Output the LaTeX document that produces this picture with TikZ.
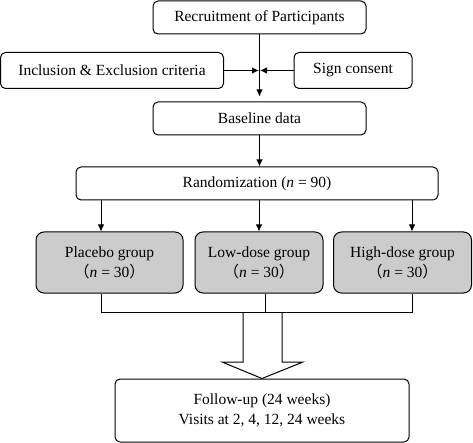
\documentclass[tikz,border=0pt]{standalone}
\usepackage{fontspec}
\setmainfont{Liberation Serif}
\newfontfamily\cjk{Noto Sans CJK SC}
\usetikzlibrary{arrows.meta,calc}
\begin{document}
\begin{tikzpicture}[x=1pt,y=-1pt,
  box/.style={draw,line width=1pt,rounded corners=5pt,inner sep=0pt,align=center,font=\fontsize{15.5}{20}\selectfont},
  grp/.style={box,rounded corners=8pt,fill=gray!40},
  arr/.style={line width=1pt,-{Latex[length=7pt,width=6.5pt]}},
  ln/.style={line width=1pt}]
\useasboundingbox (0,0) rectangle (473,443);
\node[box,minimum width=213pt,minimum height=33pt] (rec) at (259.5,17.5) {Recruitment of Participants};
\node[box,minimum width=223pt,minimum height=36pt] (inc) at (112,70.5) {Inclusion \& Exclusion criteria};
\node[box,minimum width=118pt,minimum height=36pt] (sign) at (353,70.5) {Sign consent};
\node[box,minimum width=213pt,minimum height=33pt] (base) at (259.5,118.5) {Baseline data};
\node[box,minimum width=362pt,minimum height=33pt] (rand) at (257,183.5) {Randomization (\textit{n} = 90)};
\node[grp,minimum width=147pt,minimum height=61pt] (plac) at (109.5,262.5) {Placebo group\\{\cjk （}\textit{n} = 30{\cjk ）}};
\node[grp,minimum width=128pt,minimum height=61pt] (low) at (259,262.5) {Low-dose group\\{\cjk （}\textit{n} = 30{\cjk ）}};
\node[grp,minimum width=138pt,minimum height=61pt] (high) at (402.5,262.5) {High-dose group\\{\cjk （}\textit{n} = 30{\cjk ）}};
\node[box,minimum width=294pt,minimum height=63pt] (fol) at (262,410.5) {Follow-up (24 weeks)\\Visits at 2, 4, 12, 24 weeks};
% top arrows
\draw[arr,shorten >=5pt] (rec.south) -- (base.north);
\coordinate (jn) at (259.5,70.5);
\draw[arr,shorten >=0.5pt] (inc.east) -- (jn);
\draw[arr,shorten >=0.5pt] (sign.west) -- (jn);
\draw[arr] (base.south) -- (base.south |- rand.north);
% randomization to groups
\coordinate (xa) at (101,0);
\coordinate (xb) at (259,0);
\coordinate (xc) at (412,0);
\draw[arr] (xa |- rand.south) -- (xa |- plac.north);
\draw[arr] (xb |- rand.south) -- (xb |- low.north);
\draw[arr] (xc |- rand.south) -- (xc |- high.north);
% merge lines
\coordinate (ya) at (0,312);
\draw[ln] (xa |- plac.south) -- (xa |- ya) -- (xc |- ya) -- (xc |- high.south);
\coordinate (xd) at (265,0);
\draw[ln] (xd |- low.south) -- (xd |- ya);
% fat arrow
\draw[ln,line join=miter] (243,312) -- (243,362) -- (222,362) -- (fol.north) -- (303,362) -- (282,362) -- (282,312);
\end{tikzpicture}
\end{document}
